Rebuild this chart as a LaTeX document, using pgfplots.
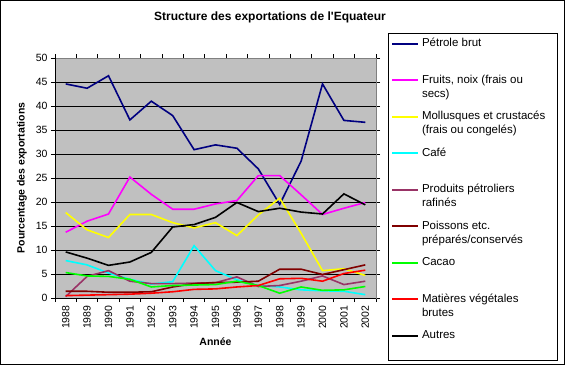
\documentclass[border=0pt]{standalone}
\usepackage{pgfplots}
\pgfplotsset{compat=1.18}
\usepackage{fontspec}
\setmainfont{Liberation Sans}
\definecolor{plotbg}{HTML}{C0C0C0}
\definecolor{petrole}{HTML}{000080}
\definecolor{fruits}{HTML}{FF00FF}
\definecolor{mollusques}{HTML}{FFFF00}
\definecolor{cafe}{HTML}{00FFFF}
\definecolor{produits}{HTML}{993366}
\definecolor{poissons}{HTML}{800000}
\definecolor{cacao}{HTML}{00FF00}
\definecolor{matieres}{HTML}{FF0000}
\newcommand{\lgent}[1]{\parbox[t]{132pt}{\fontsize{11.5}{14}\selectfont #1}}
\begin{document}
\begin{tikzpicture}[x=1pt,y=1pt]
\useasboundingbox (0,0) rectangle (565,365);
\fill[white] (0,0) rectangle (565,365);
\draw[black,line width=1pt] (0.5,0.5) rectangle (564.5,364.5);
\node[font=\fontsize{12}{14}\selectfont\bfseries] at (270,348) {Structure des exportations de l\textquotesingle Equateur};
\begin{axis}[
  at={(55pt,67pt)}, anchor=south west,
  scale only axis, width=321pt, height=240pt,
  xmin=-0.5, xmax=14.5, ymin=0, ymax=50,
  ytick={0,5,...,50},
  xtick={0,...,14},
  xticklabels={1988,1989,1990,1991,1992,1993,1994,1995,1996,1997,1998,1999,2000,2001,2002},
  minor xtick={-0.5,0.5,...,14.5},
  tick align=outside,
  major tick length=4pt, minor tick length=4pt,
  major x tick style={draw=none},
  minor x tick style={black, line width=0.8pt},
  major y tick style={black, line width=0.8pt},
  ymajorgrids,
  major grid style={black, line width=0.8pt},
  axis background/.style={fill=plotbg},
  axis line style={draw=gray, line width=0.8pt},
  /pgf/number format/assume math mode=true,
  tick label style={font=\fontsize{10.5}{12}\selectfont},
  xticklabel style={rotate=90, anchor=east},
  ylabel={Pourcentage des exportations},
  ylabel style={font=\fontsize{10.5}{12}\selectfont\bfseries, at={(axis description cs:-0.103,0.5)}, anchor=center},
  xlabel={Année},
  xlabel style={font=\fontsize{10.5}{12}\selectfont\bfseries, at={(axis description cs:0.5,-0.183)}, anchor=center},
  every axis plot/.append style={line width=1.6pt, mark=none},
  legend image code/.code={\draw[#1] (0pt,3.2pt) -- (26pt,3.2pt);},
  legend style={at={(axis description cs:1.0374,1.104)}, anchor=north west,
    draw=black, line width=0.8pt, fill=white, inner xsep=3pt, inner ysep=0.5pt,
    row sep=3pt, column sep=3pt,
    nodes={inner sep=0pt, anchor=base west, text height=13pt, text depth=20.5pt}},
]
\addplot[petrole] coordinates {(0,44.6)(1,43.7)(2,46.3)(3,37.1)(4,41.0)(5,38.0)(6,30.9)(7,31.9)(8,31.2)(9,26.9)(10,19.5)(11,28.5)(12,44.6)(13,37.0)(14,36.6)};
\addlegendentry{\lgent{Pétrole brut}}
\addplot[fruits] coordinates {(0,13.7)(1,16.0)(2,17.5)(3,25.2)(4,21.6)(5,18.5)(6,18.5)(7,19.6)(8,20.3)(9,25.5)(10,25.5)(11,21.5)(12,17.4)(13,18.7)(14,19.9)};
\addlegendentry{\lgent{Fruits, noix (frais ou\\secs)}}
\addplot[mollusques] coordinates {(0,17.8)(1,14.2)(2,12.6)(3,17.4)(4,17.4)(5,15.7)(6,14.6)(7,15.7)(8,13.0)(9,17.3)(10,20.8)(11,13.5)(12,5.7)(13,6.1)(14,4.7)};
\addlegendentry{\lgent{Mollusques et crustacés\\(frais ou congelés)}}
\addplot[cafe] coordinates {(0,7.8)(1,6.9)(2,5.2)(3,3.9)(4,2.9)(5,3.4)(6,10.9)(7,5.7)(8,3.8)(9,2.6)(10,2.3)(11,1.7)(12,1.5)(13,1.4)(14,0.7)};
\addlegendentry{\lgent{Café}}
\addplot[produits] coordinates {(0,0.3)(1,4.5)(2,5.7)(3,3.5)(4,3.0)(5,3.0)(6,3.1)(7,3.2)(8,4.4)(9,2.4)(10,2.6)(11,3.5)(12,4.6)(13,2.8)(14,3.5)};
\addlegendentry{\lgent{Produits pétroliers\\rafinés}}
\addplot[poissons] coordinates {(0,1.4)(1,1.4)(2,1.2)(3,1.2)(4,1.3)(5,2.3)(6,3.0)(7,3.2)(8,3.3)(9,3.5)(10,6.0)(11,6.0)(12,4.9)(13,5.9)(14,6.9)};
\addlegendentry{\lgent{Poissons etc.\\préparés/conservés}}
\addplot[cacao] coordinates {(0,5.3)(1,4.6)(2,4.5)(3,3.9)(4,2.3)(5,2.6)(6,2.7)(7,2.8)(8,3.5)(9,2.6)(10,1.0)(11,2.3)(12,1.6)(13,1.7)(14,2.4)};
\addlegendentry{\lgent{Cacao}}
\addplot[matieres] coordinates {(0,0.5)(1,0.6)(2,0.7)(3,0.8)(4,1.0)(5,1.3)(6,1.8)(7,1.9)(8,2.3)(9,2.6)(10,4.0)(11,4.1)(12,3.5)(13,5.1)(14,5.8)};
\addlegendentry{\lgent{Matières végétales\\brutes}}
\addplot[black] coordinates {(0,9.6)(1,8.3)(2,6.8)(3,7.5)(4,9.5)(5,14.8)(6,15.3)(7,16.8)(8,19.9)(9,18.0)(10,18.7)(11,17.9)(12,17.5)(13,21.7)(14,19.4)};
\addlegendentry{\lgent{Autres}}
\draw[black, line width=0.8pt] (rel axis cs:0,1) -- (rel axis cs:0,0) -- (rel axis cs:1,0);
\end{axis}
\end{tikzpicture}
\end{document}
